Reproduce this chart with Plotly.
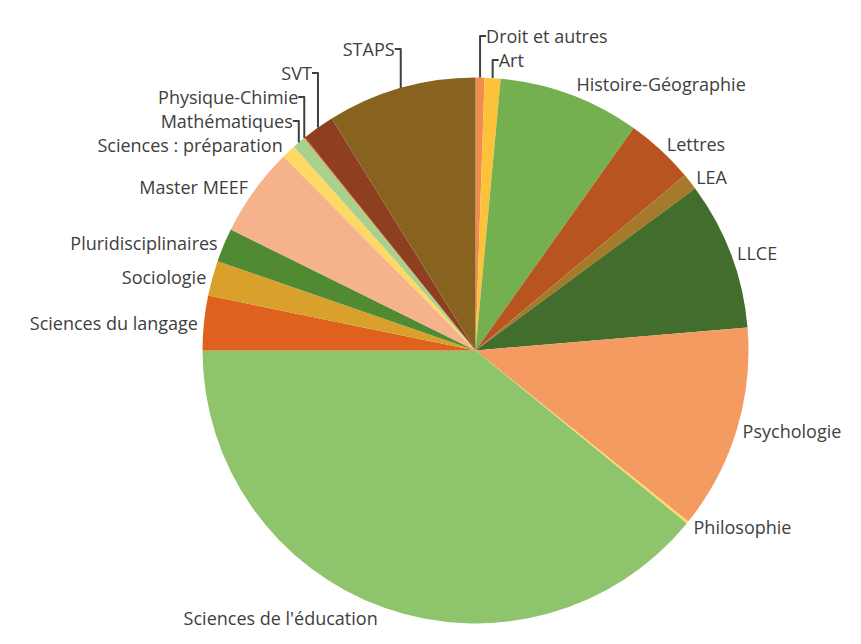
import plotly.graph_objects as go

labels = ["Droit et autres", "Art", "Histoire-Géographie", "Lettres", "LEA", "LLCE",
          "Psychologie", "Philosophie", "Sciences de l'éducation", "Sciences du langage",
          "Sociologie", "Pluridisciplinaires", "Master MEEF", "Sciences : préparation",
          "Mathématiques", "Physique-Chimie", "SVT", "STAPS"]
values = [0.53, 0.94, 8.36, 4.08, 0.97, 8.78,
          12.11, 0.14, 39.08, 3.22,
          2.08, 2.00, 5.28, 0.83,
          0.75, 0.08, 1.92, 8.83]
colors = ["#EF8C4E", "#FEC13A", "#74B04F", "#B8541F", "#A57B2B", "#426D2C",
          "#F49B61", "#FFD966", "#8EC46B", "#DE611E",
          "#D9A02B", "#508A33", "#F6B28A", "#FFD966",
          "#A9D18E", "#E8893B", "#8E3F20", "#87631F"]

fig = go.Figure(go.Pie(
    labels=labels, values=values, sort=False, direction="clockwise", rotation=0,
    marker=dict(colors=colors, line=dict(width=0)),
    textinfo="label", textposition="outside",
    textfont=dict(family="Open Sans", size=18, color="#404040"),
    outsidetextfont=dict(family="Open Sans", size=18, color="#404040"),
    domain=dict(x=[0.2259, 0.8601], y=[0.0443, 0.8921]),
    showlegend=False, hoverinfo="label+percent",
))
fig.update_layout(width=861, height=644, margin=dict(l=0, r=0, t=0, b=0),
                  paper_bgcolor="white", plot_bgcolor="white")
fig.write_html("out.html")
